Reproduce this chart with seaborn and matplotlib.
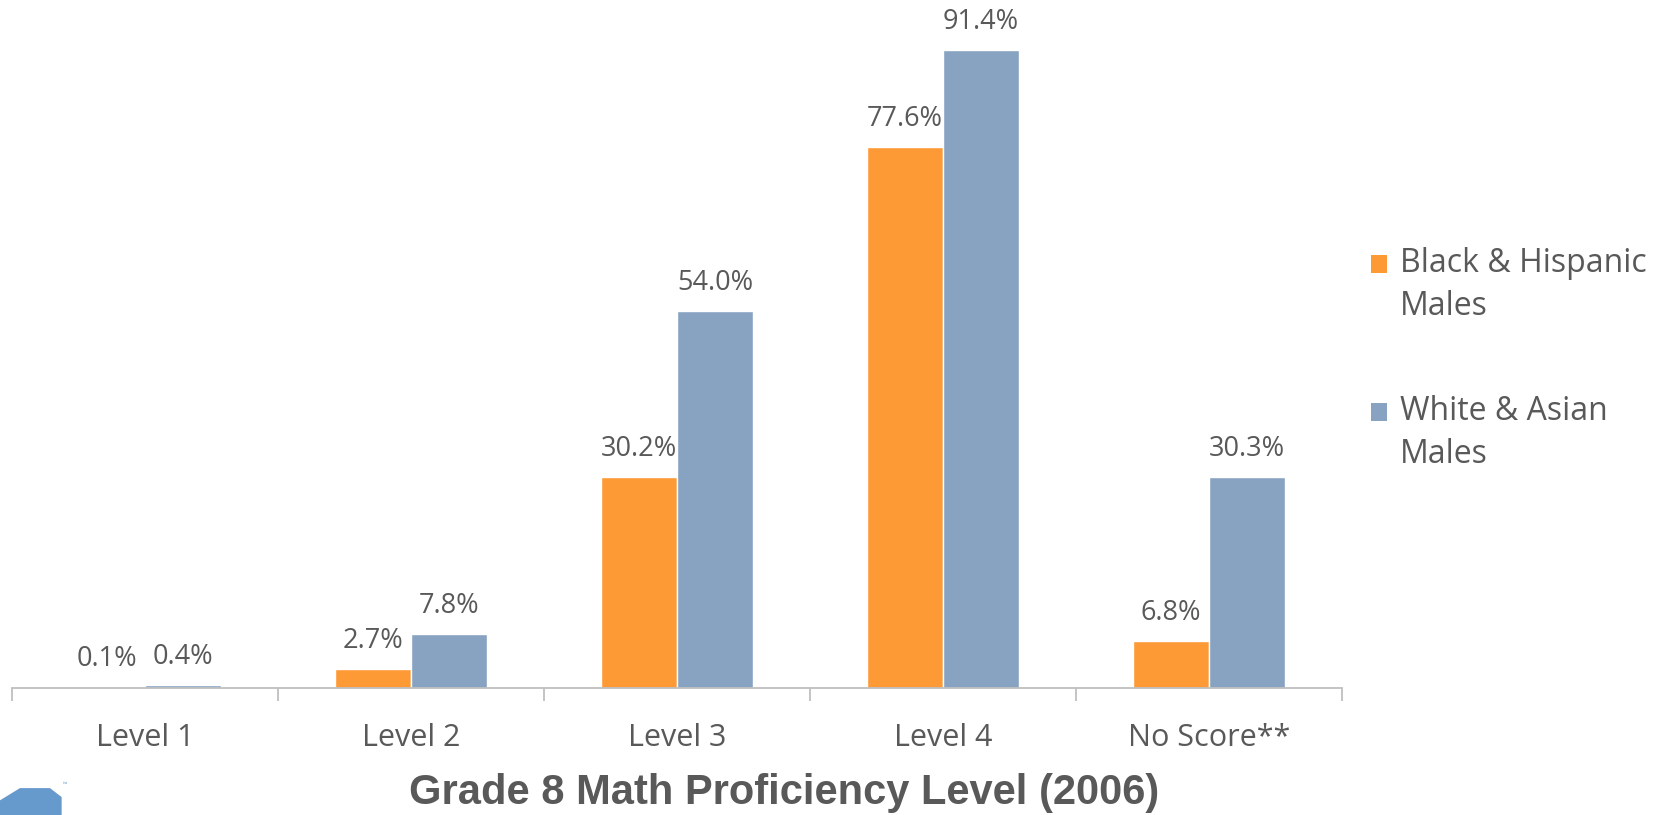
import matplotlib
matplotlib.use("Agg")
import matplotlib.pyplot as plt
import seaborn as sns
import pandas as pd
from matplotlib.patches import Patch, Polygon, Rectangle
from matplotlib.legend_handler import HandlerPatch

categories = ["Level 1", "Level 2", "Level 3", "Level 4", "No Score**"]
series_names = ["Black & Hispanic\nMales", "White & Asian\nMales"]
black_hispanic = [0.1, 2.7, 30.2, 77.6, 6.8]
white_asian = [0.4, 7.8, 54.0, 91.4, 30.3]
title = "Grade 8 Math Proficiency Level (2006)"

colors = ["#FE9A35", "#87A3C1"]
text_color = "#595959"

df = pd.DataFrame({
    "Level": categories * 2,
    "Series": [series_names[0]] * len(categories) + [series_names[1]] * len(categories),
    "Value": black_hispanic + white_asian,
})

sns.set_theme(style="white")
plt.rcParams["font.family"] = ["Open Sans", "DejaVu Sans"]

fig = plt.figure(figsize=(16.66, 8.15), dpi=100)
ax = fig.add_axes([0.0072, 0.1558, 0.7983, 0.8442])

sns.barplot(data=df, x="Level", y="Value", hue="Series", palette=colors,
            width=0.57, saturation=1, ax=ax, legend=False)

for cont in ax.containers:
    ax.bar_label(cont, fmt="%.1f%%", padding=10, fontsize=19.5, color=text_color)

ax.set_ylim(0, 98.6)
ax.set_xlim(-0.5, len(categories) - 0.5)
ax.set_xlabel("")
ax.set_ylabel("")
ax.set_yticks([])
for s in ["top", "right", "left"]:
    ax.spines[s].set_visible(False)
ax.spines["bottom"].set_color("#BFBFBF")
ax.spines["bottom"].set_linewidth(1.3)
ax.set_xticks(range(len(categories)))
ax.set_xticklabels(categories, fontsize=22, color=text_color)
ax.tick_params(axis="x", which="major", length=0, pad=25)
ax.set_xticks([i - 0.5 for i in range(len(categories) + 1)], minor=True)
ax.tick_params(axis="x", which="minor", length=9, width=1.3, color="#BFBFBF", direction="out")
ax.tick_params(axis="x", which="minor", bottom=True)


def raised_square(legend, orig_handle, xdescent, ydescent, width, height, fontsize):
    return Rectangle((-xdescent, -ydescent + 0.7 * fontsize), width, height)


handles = [Patch(facecolor=c, edgecolor="none") for c in colors]
leg = fig.legend(handles, series_names, loc="upper left", bbox_to_anchor=(0.8056, 0.732),
                 frameon=False, fontsize=23, handlelength=0.52, handleheight=0.52,
                 handletextpad=0.4, labelspacing=2.25,
                 handler_map={Patch: HandlerPatch(patch_func=raised_square)})
for t in leg.get_texts():
    t.set_color(text_color)
    t.set_linespacing(1.4)

fig.text(0.4706, 0.027, title, ha="center", va="center", fontsize=30, fontweight="bold",
         color=text_color, family="Liberation Sans")

# small logo fragment in the bottom-left corner
logo = Polygon([(0.0, 0.0), (0.0, 0.018), (0.012, 0.033), (0.030, 0.033), (0.037, 0.022), (0.037, 0.0)],
               closed=True, transform=fig.transFigure, facecolor="#6699CC", edgecolor="none")
fig.patches.append(logo)
fig.text(0.0375, 0.036, "\u2122", fontsize=4, color="#6699CC")

fig.savefig("out.png", dpi=100)
